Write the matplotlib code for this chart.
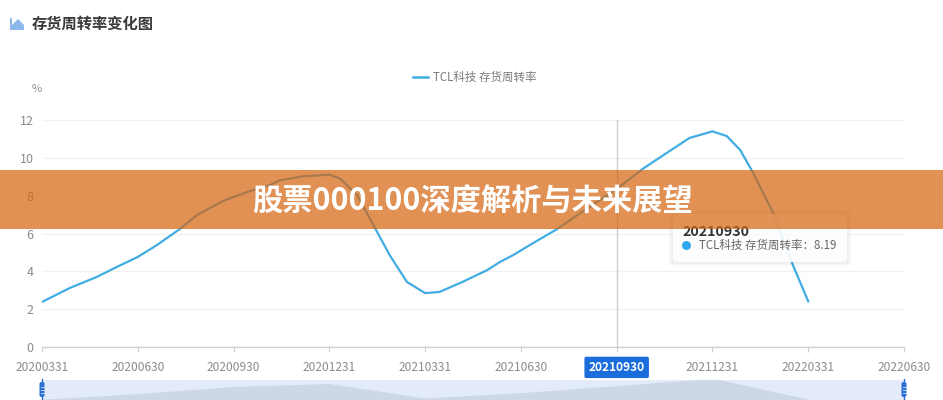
import matplotlib
matplotlib.use('Agg')
import matplotlib.pyplot as plt
from matplotlib.patches import FancyBboxPatch, Rectangle, Polygon

plt.rcParams['font.family'] = ['Noto Sans CJK SC', 'DejaVu Sans']

W, H = 943, 400

labels = ['20200331', '20200630', '20200930', '20201231', '20210331',
          '20210630', '20210930', '20211231', '20220331', '20220630']
yticks = [0, 2, 4, 6, 8, 10, 12]

# curve, x in units of the category axis
pos = [0, .29, .57, .78, 1, 1.2, 1.44, 1.62, 1.89, 2.14, 2.38, 2.48, 2.72, 3,
       3.11, 3.29, 3.46, 3.63, 3.81, 4, 4.15, 4.39, 4.65, 4.78, 4.92, 5.13,
       5.38, 5.62, 6, 6.27, 6.52, 6.76, 7, 7.15, 7.29, 7.42, 7.63, 7.84, 8]
rate = [2.38, 3.12, 3.7, 4.23, 4.76, 5.39, 6.24, 6.98, 7.72, 8.19, 8.56, 8.81, 9.02, 9.11,
        8.91, 8.03, 6.45, 4.86, 3.44, 2.85, 2.91, 3.44, 4.07, 4.49, 4.86, 5.5,
        6.24, 7.08, 8.35, 9.41, 10.25, 11.05, 11.4, 11.15, 10.41, 9.25, 7.13, 4.33, 2.41]

# quarterly values for the small overview strip
quarter = [0, 1, 2, 3, 4, 5, 6, 7, 8]
quarter_rate = [2.38, 4.76, 7.85, 9.11, 2.85, 5.2, 8.19, 11.4, 2.41]

blue = '#41ade2'
grey = '#8c8c8c'


def add_px_axes(x0, y0, x1, y1):
    return fig.add_axes([x0 / W, 1 - y1 / H, (x1 - x0) / W, (y1 - y0) / H])


fig = plt.figure(figsize=(W / 100, H / 100), dpi=100, facecolor='white')

# main chart
ax = add_px_axes(42, 120, 904, 347)
ax.set_xlim(0, 9)
ax.set_ylim(0, 12)
for s in ['top', 'right', 'left']:
    ax.spines[s].set_visible(False)
ax.spines['bottom'].set_color('#cfcfcf')
ax.spines['bottom'].set_linewidth(1)
ax.set_yticks(yticks)
ax.set_xticks(range(len(labels)))
ax.set_xticklabels(labels)
ax.tick_params(axis='y', length=0, labelsize=9, labelcolor=grey, pad=6)
ax.tick_params(axis='x', length=3.5, color='#cfcfcf', labelsize=8.6, labelcolor=grey, pad=6.5)
ax.grid(axis='y', color='#f1f1f1', linewidth=1)
ax.set_axisbelow(True)
ax.axvline(6, color='#cccccc', linewidth=1, zorder=1)
ax.plot(pos, rate, color=blue, linewidth=1.6, solid_joinstyle='round', zorder=3, label='TCL科技 存货周转率')

# selected category label
ax.get_xticklabels()[6].set_color('white')
ax.get_xticklabels()[6].set_fontweight('bold')
ax.get_xticklabels()[6].set_zorder(6)
ax.get_xticklabels()[6].set_bbox(dict(boxstyle='round,pad=0.35,rounding_size=0.15',
                                      facecolor='#1a6ddb', edgecolor='none'))

# overview strip
mini = add_px_axes(42, 380, 904, 400)
mini.set_xlim(0, 9)
mini.set_ylim(2.0, 10.63)
mini.set_facecolor('#e3ebf8')
mini.set_xticks([])
mini.set_yticks([])
for s in mini.spines.values():
    s.set_visible(False)
mini.fill_between(quarter, quarter_rate, 0, color='#ccd8e8', linewidth=0)

# everything drawn in picture pixels goes on this layer
top = fig.add_axes([0, 0, 1, 1], facecolor='none')
top.set_xlim(0, W)
top.set_ylim(H, 0)
top.axis('off')

# heading and icon
top.add_patch(Polygon([(10, 30), (10, 18), (12, 18), (12, 25), (18, 19), (24, 25), (24, 30)],
                      facecolor='#8db8ee', edgecolor='none'))
top.text(32, 24, '存货周转率变化图', fontsize=11, fontweight='bold', color='#3a3a3a', va='center')

# legend and unit
top.plot([413, 428], [77, 77], color=blue, linewidth=1.8)
top.text(433, 77, 'TCL科技 存货周转率', fontsize=8.3, color='#7a7a7a', va='center')
top.text(37, 89, '%', fontsize=8, color=grey, va='center', ha='center')

# tooltip
for grow, a in [(4, .04), (2, .06)]:
    top.add_patch(FancyBboxPatch((673 - grow, 214 - grow), 174 + 2 * grow, 48 + 2 * grow,
                                 boxstyle='round,pad=0,rounding_size=3',
                                 facecolor='#555555', edgecolor='none', alpha=a, zorder=4))
top.add_patch(FancyBboxPatch((673, 214), 174, 48, boxstyle='round,pad=0,rounding_size=3',
                             facecolor='white', edgecolor='none', alpha=.9, zorder=4))
top.text(682, 232, '20210930', fontsize=10.2, fontweight='bold', color='#333333', va='center', zorder=5)
top.scatter([686], [245], s=42, color='#2ea7ee', linewidths=0, zorder=5)
top.text(699, 245, 'TCL科技 存货周转率：8.19', fontsize=8.3, color='#666666', va='center', zorder=5)

# banner across the middle
top.add_patch(Rectangle((0, 170), W, 59, facecolor='#d5630c', edgecolor='none', alpha=.7, zorder=7))
top.text(472, 202, '股票000100深度解析与未来展望', fontsize=21.8, fontweight='bold', color='white',
         ha='center', va='center', zorder=8)

# strip handles
for x in [42, 904]:
    top.add_patch(FancyBboxPatch((x - 2.5, 382), 5, 15, boxstyle='round,pad=0,rounding_size=2',
                                 facecolor='#2a6fd6', edgecolor='none', zorder=5))
    top.plot([x, x], [379, 400], color='#2a6fd6', linewidth=1, zorder=5)
    for y in [387, 390, 393]:
        top.plot([x - 1.5, x + 1.5], [y, y], color='#cfe0f7', linewidth=.6, zorder=6)

fig.savefig('out.png', dpi=100)
